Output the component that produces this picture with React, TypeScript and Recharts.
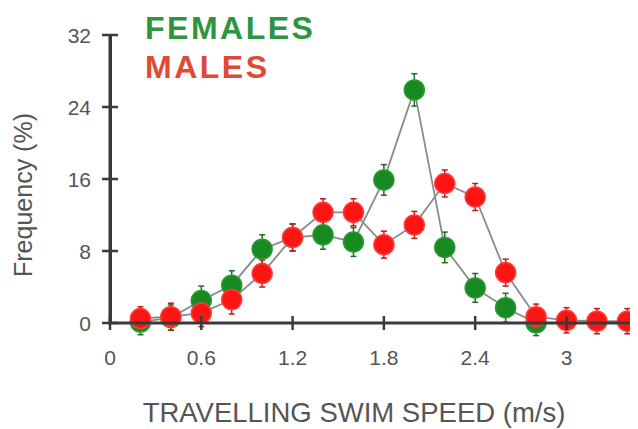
import { LineChart, Line, XAxis, YAxis, ErrorBar } from "recharts";

// Swim speed bins (m/s) and frequency (%) per sex.
const speeds = [0.2, 0.4, 0.6, 0.8, 1.0, 1.2, 1.4, 1.6, 1.8, 2.0, 2.2, 2.4, 2.6, 2.8, 3.0, 3.2, 3.4];
const females = [0.1, 0.6, 2.5, 4.2, 8.2, 9.5, 9.8, 9.0, 15.9, 25.9, 8.4, 3.9, 1.7, 0, null, null, null];
const males = [0.5, 0.7, 1.1, 2.6, 5.5, 9.5, 12.3, 12.3, 8.7, 10.9, 15.5, 14.0, 5.6, 0.7, 0.3, 0.2, 0.2];
const femaleErr = [1.4, 1.4, 1.6, 1.6, 1.6, 1.5, 1.6, 1.6, 1.7, 1.8, 1.7, 1.6, 1.6, 1.4, 0, 0, 0];
const maleErr = [1.3, 1.5, 1.5, 1.6, 1.5, 1.5, 1.5, 1.5, 1.5, 1.5, 1.5, 1.5, 1.5, 1.4, 1.4, 1.4, 1.4];

const xTicks = [0, 0.6, 1.2, 1.8, 2.4, 3];
const yTicks = [0, 8, 16, 24, 32];

const rows = speeds.map((s, i) => ({
  speed: s,
  female: females[i],
  male: males[i],
  fErr: femaleErr[i],
  mErr: maleErr[i],
}));

const AXIS = "#3a3a3a";
const TEXT = "#555";
const MARGIN = { top: 27, right: 0, left: 42, bottom: 46 };
const Y_AXIS_W = 60;
const X_AXIS_H = 60;
const W = 630;
const H = 421;
// where the axis lines sit
const AXIS_X = MARGIN.left + Y_AXIS_W;
const AXIS_Y = H - MARGIN.bottom - X_AXIS_H;

// ticks cross the axis; the first x tick also carries the x axis line
function XTick(props: any) {
  const { x, payload } = props;
  return (
    <g>
      {payload.value === xTicks[0] && <line x1={x - 1.5} x2={W} y1={AXIS_Y} y2={AXIS_Y} stroke={AXIS} strokeWidth={3} />}
      <line x1={x} x2={x} y1={AXIS_Y - 7} y2={AXIS_Y + 7} stroke={AXIS} strokeWidth={2.5} />
      <text x={x} y={AXIS_Y + 27} dy="0.71em" textAnchor="middle" fill={TEXT} fontSize={21}>
        {payload.value}
      </text>
    </g>
  );
}

// the top y tick also carries the y axis line
function YTick(props: any) {
  const { y, payload } = props;
  return (
    <g>
      {payload.value === yTicks[yTicks.length - 1] && (
        <rect x={AXIS_X - 1.5} y={y} width={3} height={AXIS_Y - y} fill={AXIS} />
      )}
      <line x1={AXIS_X - 8} x2={AXIS_X + 8} y1={y} y2={y} stroke={AXIS} strokeWidth={2.5} />
      <text x={AXIS_X - 19} y={y} dy="0.36em" textAnchor="end" fill={TEXT} fontSize={21}>
        {payload.value}
      </text>
    </g>
  );
}

const dot = (fill: string, stroke: string) => ({ r: 10, fill, stroke, strokeWidth: 1.5, clipDot: false });

export default function App() {
  return (
    <div style={{ position: "relative", width: W, height: H, fontFamily: "Arial, 'Liberation Sans', sans-serif" }}>
      <LineChart width={W} height={H} data={rows} margin={MARGIN}>
        <XAxis
          dataKey="speed"
          type="number"
          domain={[0, 3.47]}
          ticks={xTicks}
          allowDataOverflow
          axisLine={false}
          tickLine={false}
          height={X_AXIS_H}
          tick={<XTick />}
        />
        <YAxis
          type="number"
          domain={[0, 32]}
          ticks={yTicks}
          allowDataOverflow
          axisLine={false}
          tickLine={false}
          width={Y_AXIS_W}
          tick={<YTick />}
        />
        <Line
          dataKey="female"
          stroke="#8a8a8a"
          strokeWidth={1.8}
          dot={dot("#178a22", "#2a9a30")}
          activeDot={false}
          isAnimationActive={false}
        >
          <ErrorBar dataKey="fErr" direction="y" width={3} stroke="#1c6e22" strokeWidth={1.5} />
        </Line>
        <Line
          dataKey="male"
          stroke="#8a8a8a"
          strokeWidth={1.8}
          dot={dot("#ff1414", "#ff3a3a")}
          activeDot={false}
          isAnimationActive={false}
        >
          <ErrorBar dataKey="mErr" direction="y" width={3} stroke="#c01818" strokeWidth={1.5} />
        </Line>
      </LineChart>

      {/* y axis line, kept above the chart layer */}
      <div style={{ position: "absolute", left: AXIS_X - 1.5, top: MARGIN.top, width: 3, height: AXIS_Y - MARGIN.top, background: AXIS }} />

      <div style={{ position: "absolute", left: 137, top: 4, fontSize: 32, lineHeight: 1, fontWeight: "bold", letterSpacing: 2.5, color: "#2e9440" }}>
        FEMALES
      </div>
      <div style={{ position: "absolute", left: 137, top: 43, fontSize: 32, lineHeight: 1, fontWeight: "bold", letterSpacing: 2.5, color: "#e04a35" }}>
        MALES
      </div>
      <div
        style={{
          position: "absolute",
          left: 15 - 110,
          top: 187 - 13,
          width: 220,
          textAlign: "center",
          fontSize: 25,
          lineHeight: "26px",
          color: TEXT,
          transform: "rotate(-90deg)",
        }}
      >
        Frequency (%)
      </div>
      <div style={{ position: "absolute", left: 134, top: 391, width: 424, textAlign: "center", fontSize: 27.5, lineHeight: 1, color: TEXT, whiteSpace: "nowrap" }}>
        TRAVELLING SWIM SPEED (m/s)
      </div>
    </div>
  );
}
